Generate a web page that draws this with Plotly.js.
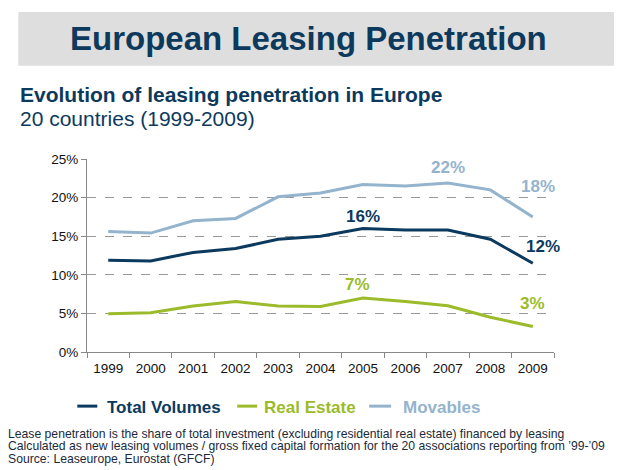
<!DOCTYPE html>
<html>
<head>
<meta charset="utf-8">
<script src="https://cdn.plot.ly/plotly-3.0.1.min.js"></script>
<style>
html,body{margin:0;padding:0;background:#fff;}
#chart{width:626px;height:470px;}
</style>
</head>
<body>
<div id="chart"></div>
<script>
// ---- data ----
const years = ['1999','2000','2001','2002','2003','2004','2005','2006','2007','2008','2009'];
const totalVolumes = [11.9, 11.8, 12.9, 13.4, 14.6, 15.0, 16.0, 15.8, 15.8, 14.6, 11.5];
const realEstate   = [4.95, 5.1, 5.95, 6.55, 5.95, 5.9, 7.0, 6.55, 6.0, 4.5, 3.3];
const movables     = [15.6, 15.4, 17.0, 17.3, 20.1, 20.6, 21.7, 21.5, 21.9, 21.0, 17.5];
const seriesNames  = ['Total Volumes', 'Real Estate', 'Movables'];
const yTicks = [0, 5, 10, 15, 20, 25];

// ---- styling ----
const FONT = 'Liberation Sans, Arial, sans-serif';
const C_TOTAL = '#0b3a5e';
const C_RE = '#9bbb2a';
const C_MOV = '#94b3cd';
const colors = [C_TOTAL, C_RE, C_MOV];

// plot area in pixels
const W = 626, H = 470;
const L = 86.7, R = 554, T = 159, B = 352.3;
const px = x => (x - L) / (R - L);
const py = y => (B - y) / (B - T);

const traces = [totalVolumes, realEstate, movables].map((vals, i) => ({
  type: 'scatter', mode: 'lines', x: years, y: vals, name: seriesNames[i],
  line: {color: colors[i], width: 3}, showlegend: false, hoverinfo: 'skip'
}));

const annotations = [];
function lab(vals, idx, color, xs, ys) {
  annotations.push({x: idx, y: vals[idx], xref: 'x', yref: 'y', text: '<b>' + Math.round(vals[idx]) + '%</b>',
    showarrow: false, xshift: xs, yshift: ys, font: {family: FONT, size: 17, color: color}});
}
const i05 = years.indexOf('2005'), i07 = years.indexOf('2007'), i09 = years.indexOf('2009');
lab(totalVolumes, i05, C_TOTAL, 0, 12);
lab(totalVolumes, i09, C_TOTAL, 10, 17);
lab(realEstate, i05, C_RE, -5, 13);
lab(realEstate, i09, C_RE, 0, 23);
lab(movables, i07, C_MOV, 0, 15);
lab(movables, i09, C_MOV, 5, 30);

// titles
annotations.push({xref: 'paper', yref: 'paper', x: px(308), y: py(38), xanchor: 'center', yanchor: 'middle',
  text: '<b>European Leasing Penetration</b>', showarrow: false,
  font: {family: FONT, size: 33, color: '#0d3a5c'}});
annotations.push({xref: 'paper', yref: 'paper', x: px(18), y: py(94), xanchor: 'left', yanchor: 'middle',
  text: '<b>Evolution of leasing penetration in Europe</b>', showarrow: false,
  font: {family: FONT, size: 21, color: '#0d3a5c'}});
annotations.push({xref: 'paper', yref: 'paper', x: px(18), y: py(118), xanchor: 'left', yanchor: 'middle',
  text: '20 countries (1999-2009)', showarrow: false,
  font: {family: FONT, size: 21, color: '#0d3a5c'}});

// legend (custom)
const legX = [[77, 97, 105], [237, 257, 262], [369, 391, 401]];
const shapes = [
  {type: 'rect', xref: 'paper', yref: 'paper', x0: px(18), x1: px(614), y0: py(65.7), y1: py(11.7),
   fillcolor: '#dedede', line: {width: 0}, layer: 'below'}
];
seriesNames.forEach((n, i) => {
  shapes.push({type: 'line', xref: 'paper', yref: 'paper', x0: px(legX[i][0]), x1: px(legX[i][1]),
    y0: py(406.5), y1: py(406.5), line: {color: colors[i], width: 3}});
  annotations.push({xref: 'paper', yref: 'paper', x: px(legX[i][2]), y: py(408), xanchor: 'left', yanchor: 'middle',
    text: '<b>' + n + '</b>', showarrow: false, font: {family: FONT, size: 17, color: colors[i]}});
});

// footnotes
const notes = [
  'Lease penetration is the share of total investment (excluding residential real estate) financed by leasing',
  'Calculated as new leasing volumes / gross fixed capital formation for the 20 associations reporting from \u201999-\u201909',
  'Source: Leaseurope, Eurostat (GFCF)'
];
const noteY = [434.5, 446.8, 459];
notes.forEach((t, i) => annotations.push({xref: 'paper', yref: 'paper', x: px(7), y: py(noteY[i]),
  xanchor: 'left', yanchor: 'middle', text: t, showarrow: false, borderpad: 0,
  font: {family: FONT, size: 12.2, color: '#1a2a3a'}}));

const layout = {
  width: W, height: H,
  margin: {l: L, r: W - R, t: T, b: H - B, pad: 0},
  paper_bgcolor: '#fff', plot_bgcolor: '#fff',
  font: {family: FONT, size: 13.5, color: '#000'},
  xaxis: {type: 'category', range: [-0.5, 10.5], showline: true, linecolor: '#888', linewidth: 1,
    ticks: 'outside', tickson: 'boundaries', ticklen: 5, tickcolor: '#888', showgrid: false,
    ticklabelstandoff: 4,
    tickfont: {family: FONT, size: 13.5, color: '#111'}, fixedrange: true},
  yaxis: {range: [0, 25], tickvals: yTicks, ticktext: yTicks.map(v => v + '%'), showline: true,
    linecolor: '#888', linewidth: 1, ticks: 'outside', ticklen: 5, tickcolor: '#888',
    showgrid: true, gridcolor: '#999', griddash: 'dash', gridwidth: 1, zeroline: false,
    tickfont: {family: FONT, size: 13.5, color: '#111'}, fixedrange: true},
  shapes: shapes, annotations: annotations, showlegend: false
};

Plotly.newPlot('chart', traces, layout, {staticPlot: true, displayModeBar: false});
</script>
</body>
</html>
